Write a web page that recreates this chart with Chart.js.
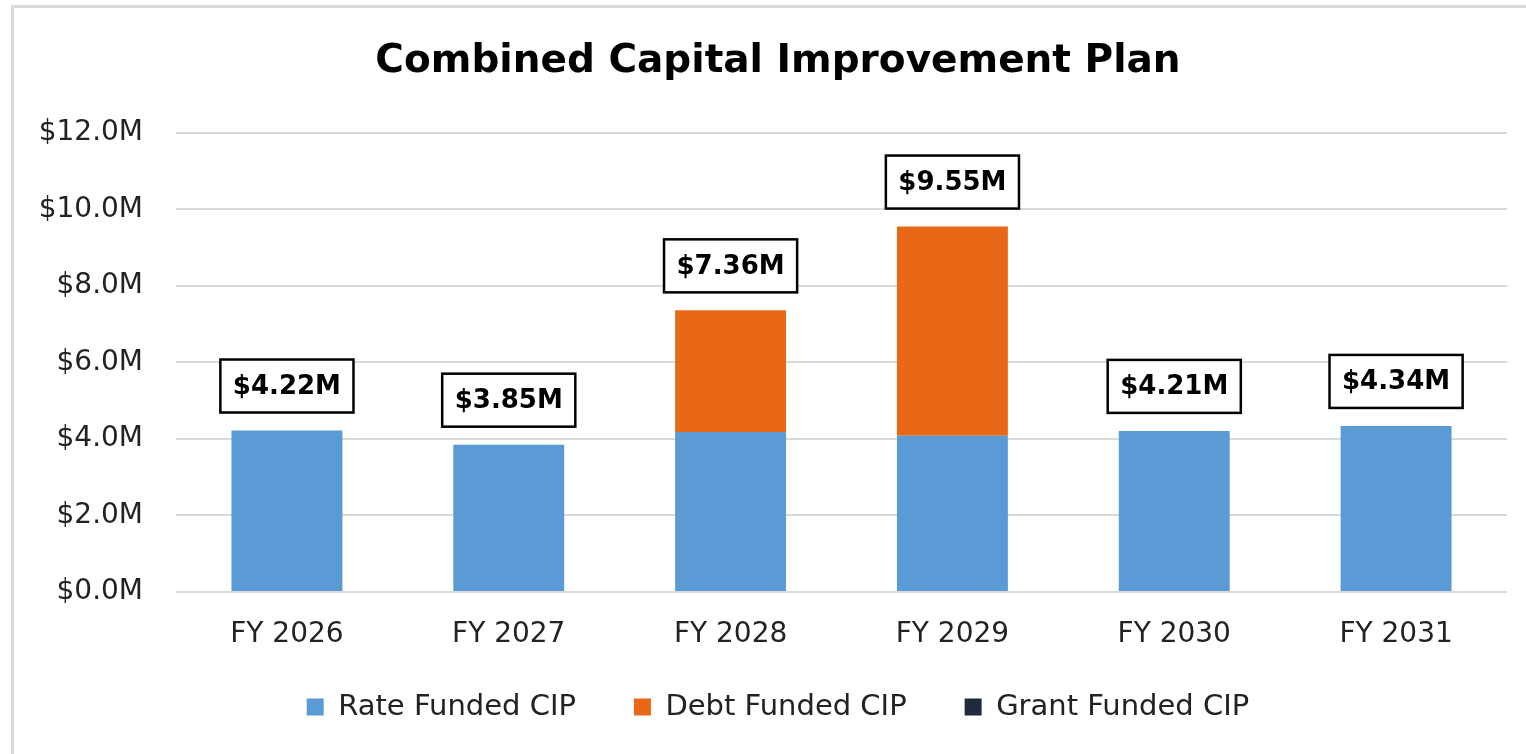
<!DOCTYPE html>
<html>
<head>
<meta charset="utf-8">
<script src="https://cdn.jsdelivr.net/npm/chart.js@4/dist/chart.umd.min.js"></script>
<style>
  html, body { margin: 0; padding: 0; background: #fff; }
  #wrap { position: relative; width: 1526px; height: 754px; }
  #frame { position: absolute; left: 11px; top: 5px; right: 0; bottom: 0;
           border-left: 3px solid #d9d9d9; border-top: 3px solid #d9d9d9; pointer-events: none; }
  canvas { position: absolute; left: 0; top: 0; }
</style>
</head>
<body>
<div id="wrap">
  <canvas id="c" width="1526" height="754"></canvas>
  <div id="frame"></div>
</div>
<script>
const categories = ['FY 2026', 'FY 2027', 'FY 2028', 'FY 2029', 'FY 2030', 'FY 2031'];
const rateFunded  = [4.22, 3.85, 4.18, 4.08, 4.21, 4.34];
const debtFunded  = [0, 0, 3.18, 5.47, 0, 0];
const grantFunded = [0, 0, 0, 0, 0, 0];
const totalLabels = ['$4.22M', '$3.85M', '$7.36M', '$9.55M', '$4.21M', '$4.34M'];
const yTicks = [0, 2, 4, 6, 8, 10, 12];

const FONT = "'DejaVu Sans', sans-serif";

const totalBoxes = {
  id: 'totalBoxes',
  afterDatasetsDraw(chart) {
    const ctx = chart.ctx;
    const y = chart.scales.y;
    const meta = chart.getDatasetMeta(0);
    ctx.save();
    ctx.font = "bold 26px " + FONT;
    ctx.textAlign = 'center';
    ctx.textBaseline = 'middle';
    categories.forEach((c, i) => {
      const total = rateFunded[i] + debtFunded[i] + grantFunded[i];
      const top = y.getPixelForValue(total);
      const x = meta.data[i].x;
      const txt = totalLabels[i];
      const w = ctx.measureText(txt).width + 25;
      const h = 53;
      const bottom = top - 18;
      ctx.fillStyle = '#fff';
      ctx.fillRect(x - w / 2, bottom - h, w, h);
      ctx.lineWidth = 2.5;
      ctx.strokeStyle = '#000';
      ctx.strokeRect(x - w / 2, bottom - h, w, h);
      ctx.fillStyle = '#000';
      ctx.fillText(txt, x, bottom - h / 2 + 1);
    });
    ctx.restore();
  }
};

function noLabelClip(scale) { scale._computeLabelArea = () => null; }

new Chart(document.getElementById('c'), {
  type: 'bar',
  data: {
    labels: categories,
    datasets: [
      { label: 'Rate Funded CIP', data: rateFunded, backgroundColor: '#5B9BD5' },
      { label: 'Debt Funded CIP', data: debtFunded, backgroundColor: '#E86818' },
      { label: 'Grant Funded CIP', data: grantFunded, backgroundColor: '#1F2B3D' }
    ]
  },
  options: {
    responsive: false,
    animation: false,
    events: [],
    layout: { padding: { left: 49, right: 19, top: 0, bottom: 22.5 } },
    datasets: { bar: { categoryPercentage: 1.0, barPercentage: 0.5 } },
    plugins: {
      title: {
        display: true,
        text: 'Combined Capital Improvement Plan',
        color: '#000',
        font: { family: FONT, size: 39, weight: 'bold', lineHeight: 1.2 },
        padding: { top: 38, bottom: 48 }
      },
      legend: {
        position: 'bottom',
        labels: {
          boxWidth: 17, boxHeight: 17, padding: 58,
          color: '#222',
          font: { family: FONT, size: 29 }
        }
      },
      tooltip: { enabled: false }
    },
    scales: {
      x: {
        stacked: true,
        grid: { display: false, drawTicks: false },
        border: { display: false },
        ticks: { color: '#222', padding: 26, font: { family: FONT, size: 28 } },
        afterFit(scale) { scale.height = 42.5; },
        afterUpdate: noLabelClip
      },
      y: {
        stacked: true,
        min: 0, max: 12,
        afterBuildTicks(scale) { scale.ticks = yTicks.map(v => ({ value: v })); },
        grid: { color: '#d9d9d9', lineWidth: 2, drawTicks: false },
        border: { display: false },
        ticks: {
          color: '#222', padding: 33,
          font: { family: FONT, size: 28 },
          callback: v => '$' + Number(v).toFixed(1) + 'M'
        },
        afterFit(scale) { scale.width = 127; },
        afterUpdate: noLabelClip
      }
    }
  },
  plugins: [totalBoxes]
});
</script>
</body>
</html>
